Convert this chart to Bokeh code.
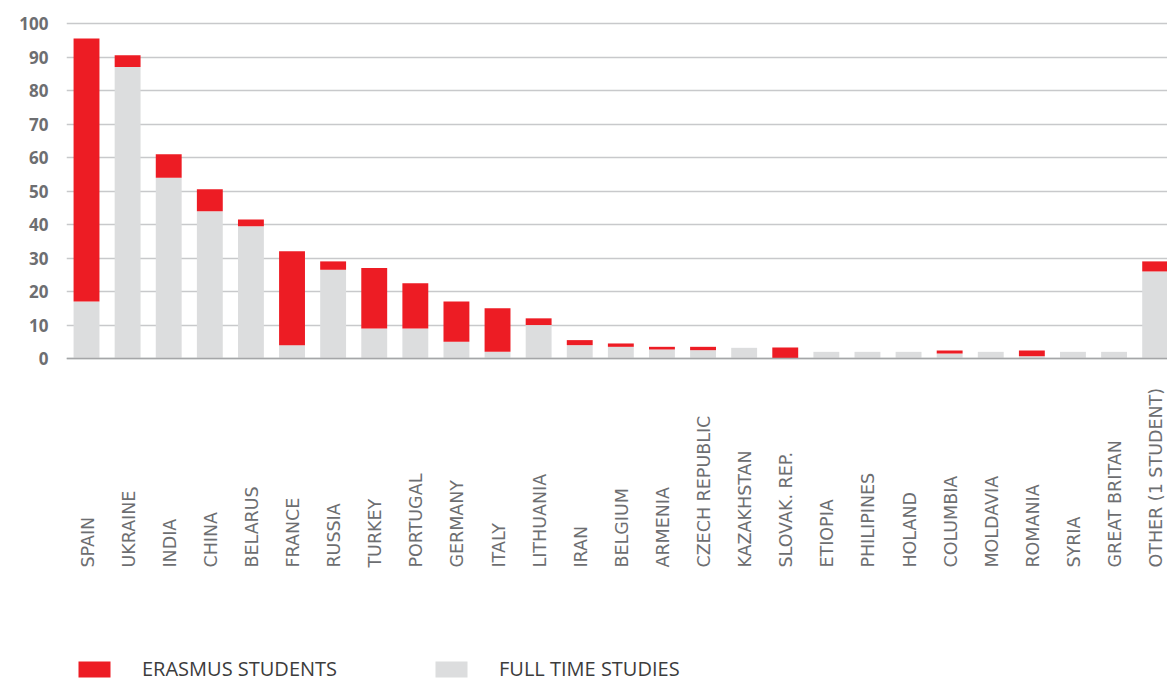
from math import pi
from bokeh.plotting import figure
from bokeh.models import ColumnDataSource, Range1d, FixedTicker, Span, Legend, LegendItem
from bokeh.core.properties import value
from bokeh.embed import file_html
from bokeh.resources import INLINE

countries = ["SPAIN", "UKRAINE", "INDIA", "CHINA", "BELARUS", "FRANCE", "RUSSIA",
             "TURKEY", "PORTUGAL", "GERMANY", "ITALY", "LITHUANIA", "IRAN", "BELGIUM",
             "ARMENIA", "CZECH REPUBLIC", "KAZAKHSTAN", "SLOVAK. REP.", "ETIOPIA",
             "PHILIPINES", "HOLAND", "COLUMBIA", "MOLDAVIA", "ROMANIA", "SYRIA",
             "GREAT BRITAN", "OTHER (1 STUDENT)"]
full_time = [17, 87, 54, 44, 39.5, 4, 26.5, 9, 9, 5, 2, 10, 4, 3.5, 2.7, 2.5, 3.2, 0,
             2, 2, 2, 1.5, 2, 0.7, 2, 2, 26]
erasmus = [78.5, 3.5, 7, 6.5, 2, 28, 2.5, 18, 13.5, 12, 13, 2, 1.5, 1, 0.8, 1, 0, 3.3,
           0, 0, 0, 0.9, 0, 1.7, 0, 0, 3]
y_ticks = [0, 10, 20, 30, 40, 50, 60, 70, 80, 90, 100]
series_names = ["ERASMUS STUDENTS", "FULL TIME STUDIES"]

RED = "#ed1c24"
GRAY = "#dcddde"

source = ColumnDataSource(dict(
    x=list(range(len(countries))),
    name=countries,
    full=full_time,
    erasmus=erasmus,
))

p = figure(width=1167, height=683, output_backend="svg", toolbar_location=None,
           x_axis_location=None, y_axis_location="left",
           x_range=Range1d(-0.487, 26.3), y_range=Range1d(-97.0, 102.4),
           min_border_left=66, min_border_right=0, min_border_top=15, min_border_bottom=0)
p.outline_line_color = None
p.background_fill_color = "white"

p.xgrid.visible = False
p.yaxis.ticker = FixedTicker(ticks=y_ticks)
p.yaxis.axis_line_color = None
p.yaxis.major_tick_line_color = None
p.yaxis.minor_tick_line_color = None
p.yaxis.major_tick_out = 0
p.yaxis.major_label_standoff = 18
p.yaxis.major_label_text_font = "Open Sans"
p.yaxis.major_label_text_font_style = "bold"
p.yaxis.major_label_text_font_size = "17px"
p.yaxis.major_label_text_color = "#6d6e71"
p.ygrid.grid_line_color = "#c8c9cb"
p.ygrid.grid_line_width = 1.3

p.add_layout(Span(location=0, dimension="width", line_color="#a5a6a8", line_width=1.6))

rs = p.vbar_stack(["full", "erasmus"], x="x", width=0.63, color=[GRAY, RED],
                  line_color=None, source=source)

p.text(x="x", y=-62.4, text="name", source=source, angle=pi / 2,
       text_align="left", text_baseline="middle", x_offset=1,
       text_font=value("DejaVu Sans"), text_font_size="17.5px", text_color="#6d6e71")

for label, rend, loc in [(series_names[0], rs[1], (8, 1)), (series_names[1], rs[0], (365, 1))]:
    lg = Legend(items=[LegendItem(label=label, renderers=[rend])], location=loc,
                orientation="horizontal", padding=0, margin=0,
                glyph_width=40, glyph_height=20, label_height=20, label_standoff=28,
                label_text_font="Open Sans", label_text_font_size="20px",
                label_text_color="#3c3c3c", border_line_alpha=0, background_fill_alpha=0)
    p.add_layout(lg, "center")

open("out.html", "w").write(file_html(p, INLINE))
